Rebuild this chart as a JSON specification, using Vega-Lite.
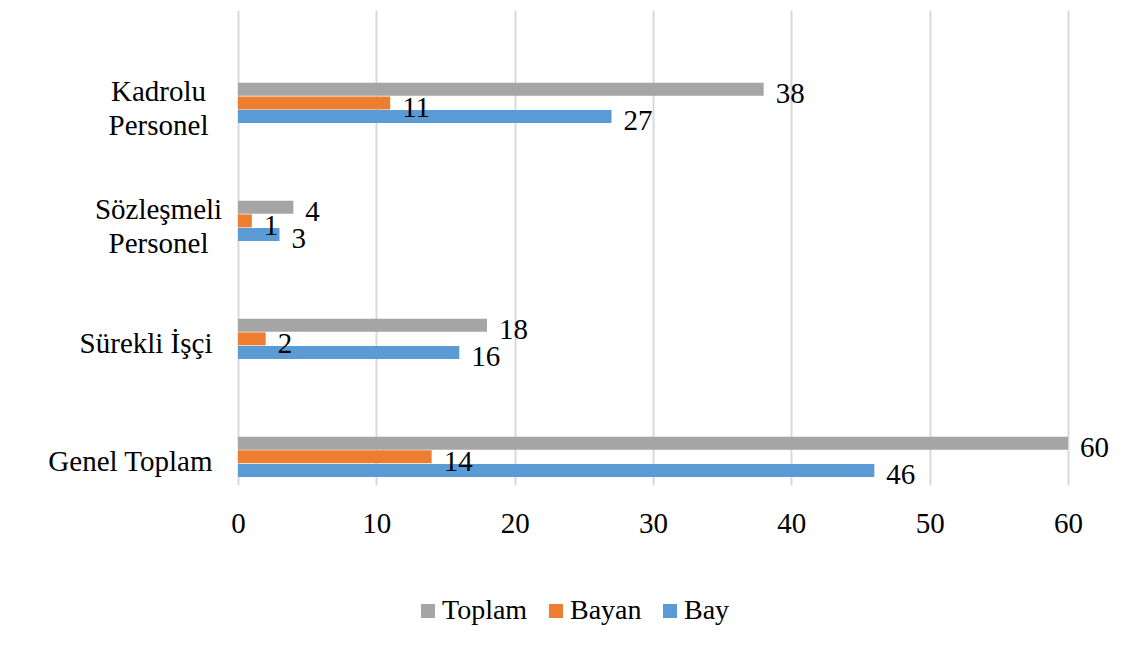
{
  "$schema": "https://vega.github.io/schema/vega-lite/v6.json",
  "autosize": "none",
  "width": 830,
  "height": 475,
  "padding": {"left": 238, "top": 10, "right": 69, "bottom": 165},
  "background": "white",
  "data": {
    "values": [
      {"kategori": "Kadrolu Personel", "seri": "Toplam", "deger": 38},
      {"kategori": "Kadrolu Personel", "seri": "Bayan", "deger": 11},
      {"kategori": "Kadrolu Personel", "seri": "Bay", "deger": 27},
      {"kategori": "Sözleşmeli Personel", "seri": "Toplam", "deger": 4},
      {"kategori": "Sözleşmeli Personel", "seri": "Bayan", "deger": 1},
      {"kategori": "Sözleşmeli Personel", "seri": "Bay", "deger": 3},
      {"kategori": "Sürekli İşçi", "seri": "Toplam", "deger": 18},
      {"kategori": "Sürekli İşçi", "seri": "Bayan", "deger": 2},
      {"kategori": "Sürekli İşçi", "seri": "Bay", "deger": 16},
      {"kategori": "Genel Toplam", "seri": "Toplam", "deger": 60},
      {"kategori": "Genel Toplam", "seri": "Bayan", "deger": 14},
      {"kategori": "Genel Toplam", "seri": "Bay", "deger": 46}
    ]
  },
  "encoding": {
    "y": {
      "field": "kategori",
      "type": "nominal",
      "sort": ["Kadrolu Personel", "Sözleşmeli Personel", "Sürekli İşçi", "Genel Toplam"],
      "scale": {"paddingInner": 0.66, "paddingOuter": 0.343, "align": 0.9},
      "axis": {
        "title": null,
        "domain": false,
        "ticks": false,
        "labelPadding": {"condition": {"test": "indexof(datum.value, 'Personel') >= 0", "value": 80}, "value": 26},
        "labelAlign": {"condition": {"test": "indexof(datum.value, 'Personel') >= 0", "value": "center"}, "value": "right"},
        "labelOffset": {"condition": {"test": "indexof(datum.value, 'Personel') >= 0", "value": -11}, "value": 5},
        "labelFont": "Liberation Serif",
        "labelFontSize": 29,
        "labelColor": "#000000",
        "labelLineHeight": 34,
        "labelExpr": "datum.value == 'Kadrolu Personel' ? ['Kadrolu', 'Personel'] : datum.value == 'Sözleşmeli Personel' ? ['Sözleşmeli', 'Personel'] : datum.value"
      }
    },
    "yOffset": {
      "field": "seri",
      "type": "nominal",
      "sort": ["Toplam", "Bayan", "Bay"],
      "scale": {"paddingInner": 0.04}
    },
    "x": {
      "field": "deger",
      "type": "quantitative",
      "scale": {"domain": [0, 60], "nice": false},
      "axis": {
        "title": null,
        "values": [0, 10, 20, 30, 40, 50, 60],
        "domain": false,
        "ticks": false,
        "grid": true,
        "gridColor": "#D9D9D9",
        "gridWidth": 2,
        "labelPadding": 24,
        "labelFont": "Liberation Serif",
        "labelFontSize": 29,
        "labelColor": "#000000",
        "labelFlush": false
      }
    }
  },
  "layer": [
    {
      "mark": {"type": "bar", "stroke": null},
      "encoding": {
        "color": {
          "field": "seri",
          "type": "nominal",
          "sort": ["Toplam", "Bayan", "Bay"],
          "scale": {"domain": ["Toplam", "Bayan", "Bay"], "range": ["#A5A5A5", "#ED7D31", "#5B9BD5"]},
          "legend": {
            "title": null,
            "orient": "none",
            "legendX": 176,
            "legendY": 587,
            "direction": "horizontal",
            "symbolType": "square",
            "symbolSize": 196,
            "symbolStrokeWidth": 0,
            "labelFont": "Liberation Serif",
            "labelFontSize": 28,
            "labelColor": "#000000",
            "columnPadding": 14,
            "labelOffset": 0
          }
        }
      }
    },
    {
      "mark": {"type": "text", "align": "left", "baseline": "middle", "dx": 12, "dy": 5, "font": "Liberation Serif", "fontSize": 29, "color": "#000000"},
      "encoding": {
        "text": {"field": "deger", "type": "quantitative"}
      }
    }
  ],
  "config": {
    "view": {"stroke": null}
  }
}
